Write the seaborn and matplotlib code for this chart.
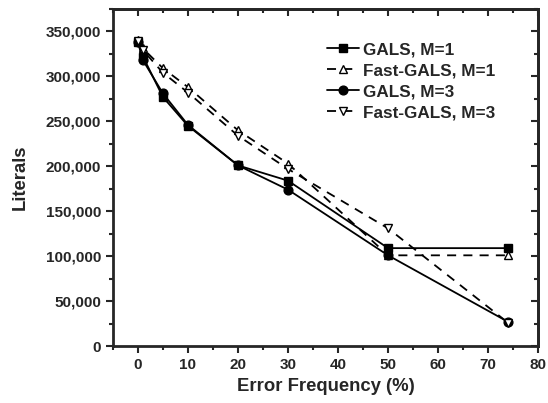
import pandas as pd
import matplotlib
matplotlib.use("Agg")
import matplotlib.pyplot as plt
import seaborn as sns
from matplotlib.ticker import MultipleLocator, FuncFormatter

# values
error_freq = [0, 1, 5, 10, 20, 30, 50, 74]
gals_m1 = [338000, 322000, 277000, 245000, 201000, 184000, 109000, 109000]
fast_gals_m1 = [340000, 331000, 309000, 288000, 240000, 203000, 101000, 101000]
gals_m3 = [338000, 318000, 281000, 246000, 201000, 174000, 101000, 27000]
fast_gals_m3 = [339000, 329000, 304000, 282000, 234000, 197000, 131000, 26000]

series_names = ["GALS, M=1", "Fast-GALS, M=1", "GALS, M=3", "Fast-GALS, M=3"]
series_vals = [gals_m1, fast_gals_m1, gals_m3, fast_gals_m3]

sns.set_style("ticks")
plt.rcParams["font.family"] = ["Liberation Sans", "DejaVu Sans"]
plt.rcParams["font.weight"] = "bold"

fig, ax = plt.subplots(figsize=(5.48, 4.03), dpi=100)
fig.subplots_adjust(left=0.206, right=0.982, top=0.978, bottom=0.141)

styles = {
    "GALS, M=1": dict(marker="s", linestyle="-", markerfacecolor="black"),
    "Fast-GALS, M=1": dict(marker="^", linestyle=(0, (5, 4)), markerfacecolor="white"),
    "GALS, M=3": dict(marker="o", linestyle="-", markerfacecolor="black"),
    "Fast-GALS, M=3": dict(marker="v", linestyle=(0, (5, 4)), markerfacecolor="white"),
}

for name, vals in zip(series_names, series_vals):
    df = pd.DataFrame({"x": error_freq, "y": vals})
    sns.lineplot(data=df, x="x", y="y", ax=ax, color="black", label=name,
                 markersize=6.3, markeredgecolor="black", markeredgewidth=1.0,
                 linewidth=1.3, **styles[name])

ax.set_xlim(-5, 80)
ax.set_ylim(0, 375000)
ax.xaxis.set_major_locator(MultipleLocator(10))
ax.xaxis.set_minor_locator(MultipleLocator(5))
ax.yaxis.set_major_locator(MultipleLocator(50000))
ax.yaxis.set_minor_locator(MultipleLocator(25000))
ax.yaxis.set_major_formatter(FuncFormatter(lambda v, p: f"{int(v):,}"))

for s in ax.spines.values():
    s.set_linewidth(2)
    s.set_visible(True)

# outward ticks bottom/left
ax.tick_params(which="both", direction="out", width=1.5, labelsize=11,
               top=False, right=False)
ax.tick_params(which="major", length=5)
ax.tick_params(which="minor", length=3)

# inward ticks on top and right
sec_x = ax.secondary_xaxis("top")
sec_x.xaxis.set_major_locator(MultipleLocator(10))
sec_x.xaxis.set_minor_locator(MultipleLocator(5))
sec_x.tick_params(which="both", direction="in", width=1.5, labeltop=False)
sec_x.tick_params(which="major", length=5)
sec_x.tick_params(which="minor", length=3)
sec_x.spines["top"].set_linewidth(2)
sec_y = ax.secondary_yaxis("right")
sec_y.yaxis.set_major_locator(MultipleLocator(50000))
sec_y.yaxis.set_minor_locator(MultipleLocator(25000))
sec_y.tick_params(which="both", direction="in", width=1.5, labelright=False)
sec_y.tick_params(which="major", length=5)
sec_y.tick_params(which="minor", length=3)
sec_y.spines["right"].set_linewidth(2)

ax.set_xlabel("Error Frequency (%)", fontsize=13.3, fontweight="bold")
ax.set_ylabel("Literals", fontsize=13.3, fontweight="bold", labelpad=12)

leg = ax.legend(loc="upper right", bbox_to_anchor=(0.935, 0.947), frameon=False,
                fontsize=12.3, handlelength=1.9, handletextpad=0.2, labelspacing=0.35)
for t in leg.get_texts():
    t.set_fontweight("bold")

fig.savefig("out.png", dpi=100)
